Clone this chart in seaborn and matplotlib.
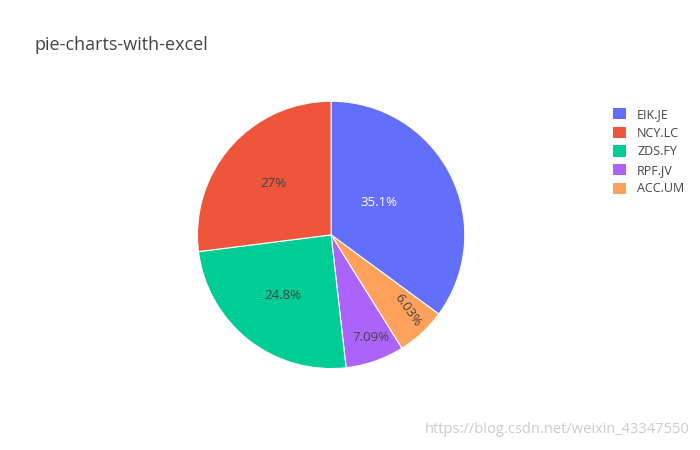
import matplotlib
matplotlib.use("Agg")
import matplotlib.pyplot as plt
import seaborn as sns
from matplotlib.patches import Patch

labels = ["EIK.JE", "ACC.UM", "RPF.JV", "ZDS.FY", "NCY.LC"]
values = [35.1, 6.03, 7.09, 24.8, 27.0]
colors = ["#636efa", "#FFA15A", "#ab63fa", "#00cc96", "#EF553B"]
legend_order = ["EIK.JE", "NCY.LC", "ZDS.FY", "RPF.JV", "ACC.UM"]

sns.set_theme(style="white")
plt.rcParams['font.family'] = ['Open Sans', 'DejaVu Sans']

fig = plt.figure(figsize=(7, 4.5), dpi=100)
ax = fig.add_axes([0.473 - 0.193, 0.478 - 0.3, 0.386, 0.6])
wedges, texts, autotexts = ax.pie(
    values, colors=colors, startangle=90, counterclock=False,
    autopct=lambda p: "%.3g%%" % p, pctdistance=0.58,
    wedgeprops=dict(linewidth=0.8, edgecolor="white"),
    textprops=dict(fontsize=9.5, color="#444444"))
ax.set_aspect("equal")
ax.set_xlim(-1.01, 1.01)
ax.set_ylim(-1.01, 1.01)
autotexts[0].set_color("white")
autotexts[0].set_position((0.36, 0.24))
autotexts[1].set_position((0.57, -0.56))
autotexts[1].set_rotation(-55)
autotexts[2].set_position((0.3, -0.77))

fig.text(0.05, 0.9, "pie-charts-with-excel", fontsize=13, color="#444444", va="center")

cmap = dict(zip(labels, colors))
handles = [Patch(facecolor=cmap[l], edgecolor="none") for l in legend_order]
leg = fig.legend(handles, legend_order, loc="upper left", bbox_to_anchor=(0.86, 0.785),
                 frameon=False, fontsize=9, handlelength=1.0, handleheight=1.0,
                 labelspacing=0.45, handletextpad=0.9)
for t in leg.get_texts():
    t.set_color("#444444")

fig.text(0.985, 0.045, "https://blog.csdn.net/weixin_43347550", fontsize=10.5,
         color="#cccccc", ha="right", va="center")
fig.savefig("out.png", dpi=100, facecolor="white")
